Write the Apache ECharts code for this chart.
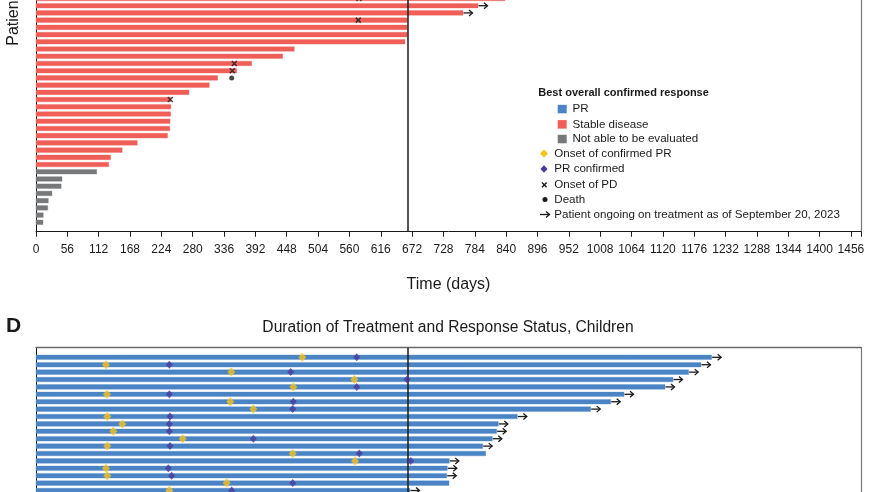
<!DOCTYPE html>
<html><head><meta charset="utf-8">
<script src="https://cdn.jsdelivr.net/npm/echarts@6/dist/echarts.min.js"></script>
<style>html,body{margin:0;padding:0;background:#fff}#c{width:870px;height:492px}</style>
</head><body><div id="c"></div>
<script>
// ---------- DATA ----------
// Top panel (adults, visible part): rows from bottom (0) to top (31)
const topEnds = [12.5, 13, 21, 22, 28.6, 45, 46.5, 108.5, 130, 133.5, 154, 181, 235, 239, 239.5, 240.7, 241,
  241, 273.4, 309.6, 324.6, 358.6, 385.4, 440.8, 461.5, 659.3, 663.4, 663.4, 663.4, 762.9, 789.7, 838];
// 0 = stable disease, 1 = not able to be evaluated
const topResp = [1,1,1,1,1,1,1,1,0,0,0,0,0,0,0,0,0,0,0,0,0,0,0,0,0,0,0,0,0,0,0,0];
const topOngoing = [29, 30];            // rows with arrow
const topPD = [[240, 17], [350.7, 21], [354.3, 22], [575.8, 28], [577, 31]];
const topDeath = [[349.6, 20]];

// Panel D (children): rows from top (0) to bottom
const childEnds = [1207.2, 1188.1, 1166.1, 1138.1, 1123.8, 1050.6, 1026.8, 991.1, 860, 826, 823.1, 815.3,
  798.1, 803.5, 738.4, 734.9, 733.8, 737.9, 668.2];
const childOngoing = [0,1,2,3,4,5,6,7,8,9,10,11,12,14,15,16,18];
const childOnsetPR = [475.8, 125, 349, 568.7, 459.7, 126.8, 347.2, 388.3, 127.4, 154.2, 138.1, 262.1, 127.4,
  458.6, 570, 125, 127.4, 340.7, 238.2];
const childPRConf = [573, 238.2, 455, 662.8, 573, 238.2, 459.7, 458.6, 239.4, 238.2, 238.2, 388.3, 239.4,
  577.6, 669.5, 236.4, 242.4, 458.6, 349.6];

const cutoffDay = 664;
const xTickStep = 56;
const xMax = 1474;

// ---------- STYLE ----------
const FONT = 'Liberation Sans, Arial, sans-serif';
const RED = '#ef5f58', GRAY = '#76787a', BLUE = '#4a84c5';
const YELLOW = '#f8c21c', PURPLE = '#4b3a99', INK = '#1a1a1a', BORDER = '#7a7a7a';

const topBarData = topEnds.map((e, i) => [e, i, topResp[i]]);
const childBarData = childEnds.map((e, i) => [e, i]);
const topArrowData = topOngoing.map(i => [topEnds[i], i]);
const childArrowData = childOngoing.map(i => [childEnds[i], i]);
const childYellow = childOnsetPR.map((v, i) => [v, i]);
const childPurple = childPRConf.map((v, i) => [v, i]);

function barRender(colorFn) {
  return function (params, api) {
    const row = api.value(1);
    const p0 = api.coord([0, row]);
    const p1 = api.coord([api.value(0), row]);
    const h = 4.6;
    const c = colorFn(api);
    return {
      type: 'rect',
      shape: { x: p0[0], y: p0[1] - h / 2, width: p1[0] - p0[0], height: h },
      style: { fill: c, stroke: c, lineWidth: 0.9, strokeOpacity: 0.35 }
    };
  };
}
function arrowRender(params, api) {
  const p = api.coord([api.value(0), api.value(1)]);
  const x = p[0] + 0.5, y = p[1];
  return {
    type: 'group',
    children: [
      { type: 'line', shape: { x1: x, y1: y, x2: x + 9, y2: y }, style: { stroke: INK, lineWidth: 1.3 } },
      { type: 'polyline', shape: { points: [[x + 5.5, y - 3], [x + 9, y], [x + 5.5, y + 3]] },
        style: { stroke: INK, lineWidth: 1.3, fill: null } }
    ]
  };
}

const chart = echarts.init(document.getElementById('c'), null, { renderer: 'canvas' });

const legendX = 538.3;
function txt(x, y, s, opt) {
  return Object.assign({ type: 'text', x: x, y: y, silent: true,
    style: Object.assign({ text: s, fill: INK, font: '11.6px ' + FONT, align: 'left', verticalAlign: 'middle',
      textAlign: 'left', textVerticalAlign: 'middle' }, opt || {}) });
}
const graphics = [
  txt(6, 326, 'D', { font: 'bold 21px ' + FONT }),
  txt(448, 328, 'Duration of Treatment and Response Status, Children', { font: '15.6px ' + FONT, align: 'center', textAlign: 'center' }),
  Object.assign(txt(0, 0, 'Patients', { font: '16px ' + FONT }), { x: 14, y: 45.7, rotation: Math.PI / 2 }),
  txt(legendX, 92.7, 'Best overall confirmed response', { font: 'bold 11px ' + FONT }),
  { type: 'rect', shape: { x: 557.7, y: 104.8, width: 9, height: 8.5 }, style: { fill: BLUE } },
  txt(572.5, 109, 'PR'),
  { type: 'rect', shape: { x: 557.7, y: 120.1, width: 9, height: 8.5 }, style: { fill: RED } },
  txt(572.5, 124.3, 'Stable disease'),
  { type: 'rect', shape: { x: 557.7, y: 134.8, width: 9, height: 8.5 }, style: { fill: GRAY } },
  txt(572.5, 139, 'Not able to be evaluated'),
  { type: 'polygon', shape: { points: [[544, 149.5], [548, 153.5], [544, 157.5], [540, 153.5]] }, style: { fill: YELLOW } },
  txt(554.3, 153.5, 'Onset of confirmed PR'),
  { type: 'polygon', shape: { points: [[544, 165.3], [547.6, 169], [544, 172.7], [540.4, 169]] }, style: { fill: PURPLE } },
  txt(554.3, 169, 'PR confirmed'),
  { type: 'line', shape: { x1: 542, y1: 182.6, x2: 546.6, y2: 187.2 }, style: { stroke: INK, lineWidth: 1.4 } },
  { type: 'line', shape: { x1: 546.6, y1: 182.6, x2: 542, y2: 187.2 }, style: { stroke: INK, lineWidth: 1.4 } },
  txt(554.3, 184.5, 'Onset of PD'),
  { type: 'circle', shape: { cx: 545, cy: 199.5, r: 2.5 }, style: { fill: INK } },
  txt(554.3, 199.5, 'Death'),
  { type: 'line', shape: { x1: 540, y1: 214.5, x2: 549.5, y2: 214.5 }, style: { stroke: INK, lineWidth: 1.3 } },
  { type: 'polyline', shape: { points: [[546, 211.5], [549.5, 214.5], [546, 217.5]] }, style: { stroke: INK, lineWidth: 1.3, fill: null } },
  txt(554.3, 214.5, 'Patient ongoing on treatment as of September 20, 2023')
];

const noMarks = { axisTick: { show: false }, axisLabel: { show: false }, splitLine: { show: false } };
const xCommon = { type: 'value', min: 0, max: xMax, interval: xTickStep, splitLine: { show: false } };
const option = {
  animation: false,
  backgroundColor: '#fff',
  grid: [
    { left: 36, right: 9, top: 0, bottom: 260.3, show: false },
    { left: 36, right: 9, top: 347.7, bottom: 0, show: false }
  ],
  xAxis: [
    Object.assign({}, xCommon, {
      gridIndex: 0, position: 'bottom',
      axisLine: { show: true, onZero: false, lineStyle: { color: INK, width: 1 } },
      axisTick: { show: true, length: 5, lineStyle: { color: INK, width: 1 } },
      axisLabel: { color: INK, fontSize: 12, fontFamily: FONT, margin: 12,
        formatter: v => (v % xTickStep === 0 ? String(v) : '') },
      name: 'Time (days)', nameLocation: 'middle', nameGap: 45,
      nameTextStyle: { color: INK, fontSize: 16, fontFamily: FONT }
    }),
    Object.assign({}, xCommon, noMarks, {
      gridIndex: 1, position: 'top',
      axisLine: { show: true, onZero: false, lineStyle: { color: '#6a6a6a', width: 1.4 } }
    })
  ],
  yAxis: [
    Object.assign({ gridIndex: 0, type: 'value', min: -1.3, max: 30.79, position: 'left',
      axisLine: { show: true, onZero: false, lineStyle: { color: INK, width: 1 } } }, noMarks),
    Object.assign({ gridIndex: 0, type: 'value', min: -1.3, max: 30.79, position: 'right',
      axisLine: { show: true, onZero: false, lineStyle: { color: BORDER, width: 1.2 } } }, noMarks),
    Object.assign({ gridIndex: 1, type: 'value', min: -1.3, max: 18.2, inverse: true, position: 'left',
      axisLine: { show: true, onZero: false, lineStyle: { color: INK, width: 1 } } }, noMarks),
    Object.assign({ gridIndex: 1, type: 'value', min: -1.3, max: 18.2, inverse: true, position: 'right',
      axisLine: { show: true, onZero: false, lineStyle: { color: BORDER, width: 1.2 } } }, noMarks)
  ],
  series: [
    { type: 'custom', xAxisIndex: 0, yAxisIndex: 0, data: topBarData, silent: true, z: 2, clip: false,
      renderItem: barRender(api => (api.value(2) === 1 ? GRAY : RED)) },
    { type: 'custom', xAxisIndex: 1, yAxisIndex: 2, data: childBarData, silent: true, z: 2,
      renderItem: barRender(() => BLUE) },
    { type: 'custom', xAxisIndex: 0, yAxisIndex: 0, data: topArrowData, silent: true, z: 4, renderItem: arrowRender },
    { type: 'custom', xAxisIndex: 1, yAxisIndex: 2, data: childArrowData, silent: true, z: 4, renderItem: arrowRender },
    { type: 'scatter', xAxisIndex: 0, yAxisIndex: 0, data: topPD, silent: true, z: 5, clip: false,
      symbol: 'path://M0,0L10,10M10,0L0,10', symbolSize: 5,
      itemStyle: { color: 'rgba(0,0,0,0)', borderColor: INK, borderWidth: 1.5 },
      markLine: { silent: true, symbol: 'none', label: { show: false },
        lineStyle: { color: INK, width: 1.5, type: 'solid' }, data: [{ xAxis: cutoffDay }] } },
    { type: 'scatter', xAxisIndex: 0, yAxisIndex: 0, data: topDeath, silent: true, z: 5,
      symbol: 'circle', symbolSize: 5, itemStyle: { color: INK } },
    { type: 'scatter', xAxisIndex: 1, yAxisIndex: 2, data: childYellow, silent: true, z: 5,
      symbol: 'diamond', symbolSize: [8, 9], itemStyle: { color: YELLOW },
      markLine: { silent: true, symbol: 'none', label: { show: false },
        lineStyle: { color: INK, width: 1.5, type: 'solid' }, data: [{ xAxis: cutoffDay }] } },
    { type: 'scatter', xAxisIndex: 1, yAxisIndex: 2, data: childPurple, silent: true, z: 6,
      symbol: 'diamond', symbolSize: [7, 8], itemStyle: { color: PURPLE } }
  ],
  graphic: graphics
};
chart.setOption(option);
</script></body></html>
